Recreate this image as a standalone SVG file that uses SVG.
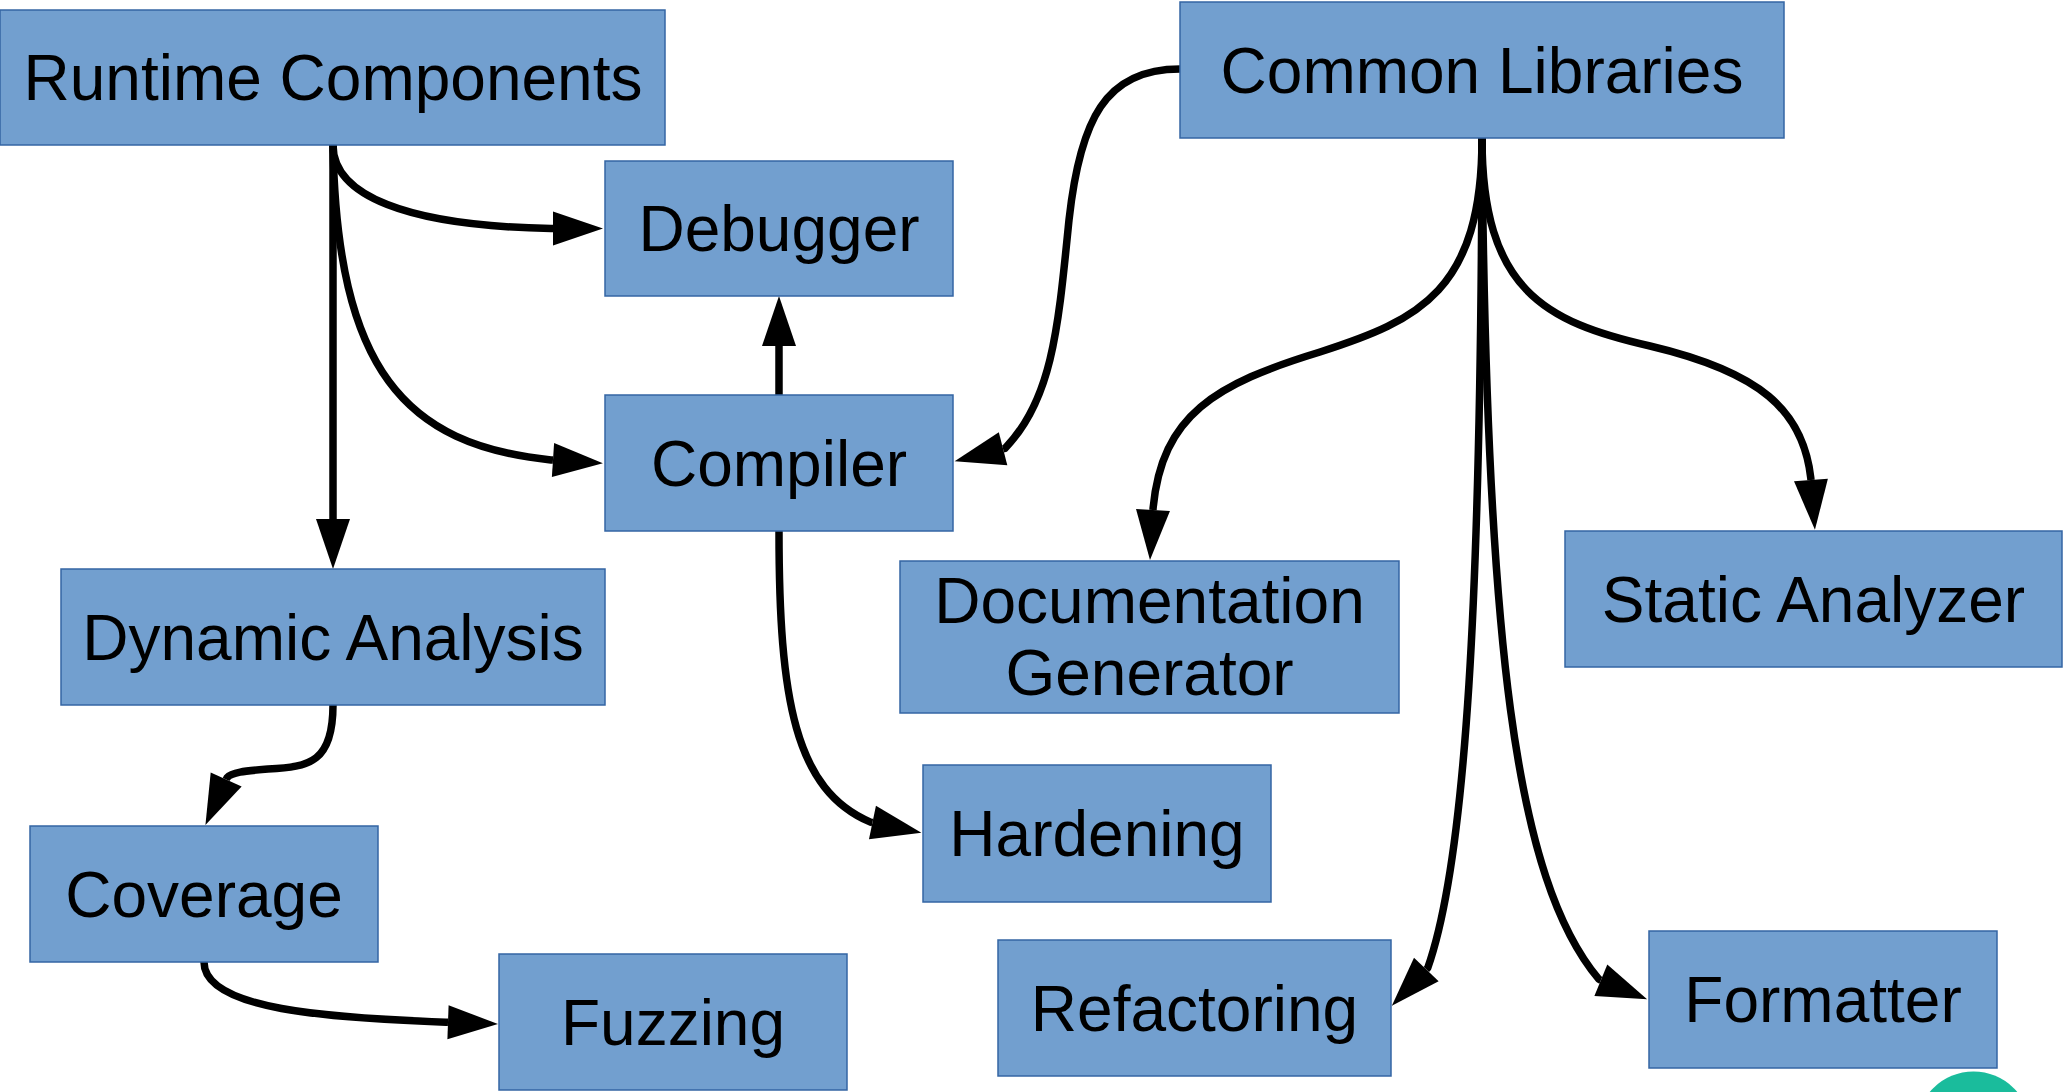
<svg xmlns="http://www.w3.org/2000/svg" width="2063" height="1092" viewBox="0 0 2063 1092">
  <defs>
    <style>
      .node rect { fill: #729fcf; stroke: #3465a4; stroke-width: 1.5; }
      .node text { font-family: "Liberation Sans", Arial, sans-serif; font-size: 64px; fill: #000000; text-anchor: middle; }
      .edge { fill: none; stroke: #000000; stroke-width: 7.5; stroke-linejoin: round; marker-end: url(#head); }
    </style>
    <!-- filled arrowhead; its base sits on the end of the line -->
    <marker id="head" viewBox="0 0 50 34" markerWidth="50" markerHeight="34" refX="0" refY="17" orient="auto" markerUnits="userSpaceOnUse" overflow="visible">
      <path d="M0,0 L50,17 L0,34 Z" fill="#000000"/>
    </marker>
  </defs>

  <rect width="2063" height="1092" fill="#ffffff"/>

  <g id="connectors">
    <!-- Runtime Components -> Debugger / Compiler / Dynamic Analysis -->
    <path class="edge" d="M333,145 C333,195 405,226 551,228.5 l2,0"/>
    <path class="edge" d="M333,145 C337,370 405,445 551,459.9 l2,0.13"/>
    <path class="edge" d="M333,145 L333,519"/>
    <!-- Compiler -> Debugger -->
    <path class="edge" d="M779,395 L779,346"/>
    <!-- Common Libraries -> Compiler -->
    <path class="edge" d="M1180,69 C1105,69 1080,120 1069,220 C1058,330 1052,400 1005,448.3 l-1.94,0.5"/>
    <!-- Common Libraries -> Documentation Generator -->
    <path class="edge" d="M1482,138 C1482,290 1420,320 1320,352 C1215,384 1162,415 1153.1,508 l-0.12,2"/>
    <!-- Common Libraries -> Static Analyzer -->
    <path class="edge" d="M1482,138 C1482,290 1545,322 1650,346 C1760,372 1803,410 1810.8,478 l0.16,2"/>
    <!-- Common Libraries -> Refactoring -->
    <path class="edge" d="M1482,138 C1481,600 1466,860 1427.7,968 l-1.38,1.45"/>
    <!-- Common Libraries -> Formatter -->
    <path class="edge" d="M1482,138 C1486,640 1515,880 1599,979.4 l1.85,0.76"/>
    <!-- Compiler -> Hardening -->
    <path class="edge" d="M779,531 C779,700 795,790 870.5,822.1 l1.96,0.41"/>
    <!-- Dynamic Analysis -> Coverage -->
    <path class="edge" d="M333,705 C333,762 310,767 268,769 C246,771 232,772 227,777.7 l-0.83,1.82"/>
    <!-- Coverage -> Fuzzing -->
    <path class="edge" d="M204,962 C204,1010 330,1018 446,1022.2 l2,0.07"/>
  </g>

  <g id="runtime-components" class="node">
    <rect x="0" y="10" width="665" height="135"/>
    <text x="333" y="100">Runtime Components</text>
  </g>
  <g id="debugger" class="node">
    <rect x="605" y="161" width="348" height="135"/>
    <text x="779" y="251">Debugger</text>
  </g>
  <g id="compiler" class="node">
    <rect x="605" y="395" width="348" height="136"/>
    <text x="779" y="486">Compiler</text>
  </g>
  <g id="common-libraries" class="node">
    <rect x="1180" y="2" width="604" height="136"/>
    <text x="1482" y="93">Common Libraries</text>
  </g>
  <g id="documentation-generator" class="node">
    <rect x="900" y="561" width="499" height="152"/>
    <text x="1149.5" y="623">Documentation</text>
    <text x="1149.5" y="695">Generator</text>
  </g>
  <g id="static-analyzer" class="node">
    <rect x="1565" y="531" width="497" height="136"/>
    <text x="1813.5" y="622">Static Analyzer</text>
  </g>
  <g id="dynamic-analysis" class="node">
    <rect x="61" y="569" width="544" height="136"/>
    <text x="333" y="660">Dynamic Analysis</text>
  </g>
  <g id="coverage" class="node">
    <rect x="30" y="826" width="348" height="136"/>
    <text x="204" y="917">Coverage</text>
  </g>
  <g id="fuzzing" class="node">
    <rect x="499" y="954" width="348" height="136"/>
    <text x="673" y="1045">Fuzzing</text>
  </g>
  <g id="hardening" class="node">
    <rect x="923" y="765" width="348" height="137"/>
    <text x="1097" y="856">Hardening</text>
  </g>
  <g id="refactoring" class="node">
    <rect x="998" y="940" width="393" height="136"/>
    <text x="1194.5" y="1031">Refactoring</text>
  </g>
  <g id="formatter" class="node">
    <rect x="1649" y="931" width="348" height="137"/>
    <text x="1823" y="1022">Formatter</text>
  </g>

  <!-- teal disc peeking in at the bottom edge -->
  <circle cx="1973.5" cy="1128.5" r="57" fill="#1abc9c"/>
</svg>
